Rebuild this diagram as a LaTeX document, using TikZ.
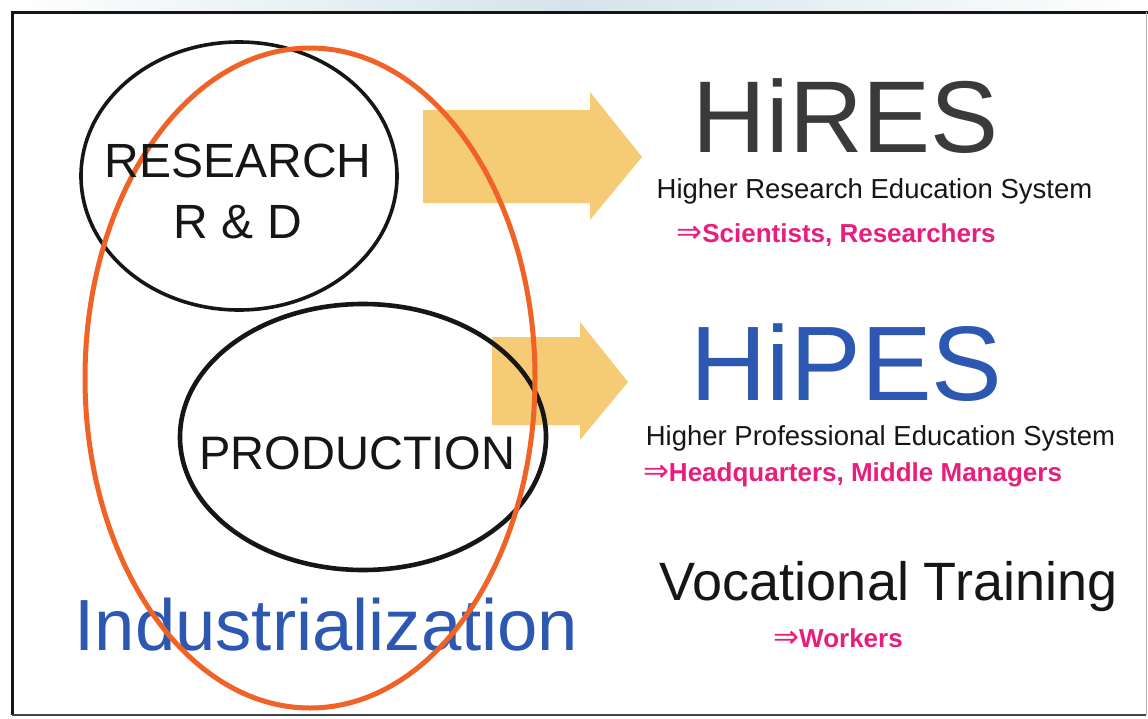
\documentclass[tikz,border=0pt]{standalone}
\usepackage{fontspec}
\setmainfont{Liberation Sans}
\newfontfamily\symf{DejaVu Sans}
\definecolor{orng}{RGB}{240,98,38}
\definecolor{arrowc}{RGB}{245,203,118}
\definecolor{mag}{RGB}{232,30,125}
\definecolor{blu}{RGB}{45,88,178}
\definecolor{dgray}{RGB}{58,58,58}
\definecolor{ink}{RGB}{22,22,22}
\definecolor{bgblue}{RGB}{212,228,234}
\newcommand{\fs}[1]{\fontsize{#1}{#1}\selectfont}
\newcommand{\dimp}{{\symf\mdseries\fontsize{31}{31}\selectfont ⇒}}
\tikzset{
  txt/.style={inner sep=0pt, anchor=base},
  bigarrow/.style={fill=arrowc, draw=none},
  blackring/.style={draw=ink, line width=3.6pt},
  orangering/.style={draw=orng, line width=5pt},
}
\begin{document}
\begin{tikzpicture}[x=1pt,y=-1pt]
\useasboundingbox (0,0) rectangle (1148,718);
% outer background and frame
\fill[white] (0,0) rectangle (1148,718);
\shade[left color=white, right color=white, middle color=bgblue] (0,0) rectangle (1148,12);
\draw[line width=3pt, ink] (1148,12) -- (12,12) -- (12,715);
\draw[line width=1.5pt, ink!80] (12,715) -- (1146,715);
\draw[line width=0.8pt, gray!60] (1146,12) -- (1146,715);
% arrows
\fill[bigarrow] (423,110) -- (590,110) -- (590,92) -- (642,157) -- (590,220) -- (590,203) -- (423,203) -- cycle;
\fill[bigarrow] (492,337) -- (580,337) -- (580,322) -- (628,382) -- (580,440) -- (580,425) -- (492,425) -- cycle;
% black ellipses
\draw[blackring] (239,176) ellipse [x radius=158pt, y radius=134pt];
\draw[blackring, line width=4.6pt] (363,437) ellipse [x radius=183pt, y radius=133pt];
% industrialization
\node[txt, text=blu] (ind) at (326.5,650) {\fs{72.5}Industrialization};
% orange ellipse
\draw[orangering] (310,378) ellipse [x radius=225pt, y radius=330pt];
% left texts
\node[txt, text=ink] (res) at (238,177) {\fs{48}RESEARCH};
\node[txt, text=ink] (rd) at (238,238) {\fs{48}R \& D};
\node[txt, text=ink] (prod) at (357.5,469) {\fs{47}PRODUCTION};
% right texts
\node[txt, text=dgray] (hires) at (846,152) {\fs{102}HiRES};
\node[txt, text=ink] (hiresl) at (874.5,198) {\fs{27.5}Higher Research Education System};
\node[txt, text=mag] (sci) at (836,242) {\fs{26}\bfseries\dimp Scientists, Researchers};
\node[txt, text=blu] (hipes) at (846.5,400) {\fs{106}HiPES};
\node[txt, text=ink] (hipesl) at (880.5,445) {\fs{27.5}Higher Professional Education System};
\node[txt, text=mag] (hq) at (852.5,481) {\fs{26}\bfseries\dimp Headquarters, Middle Managers};
\node[txt, text=ink] (voc) at (888.5,600) {\fs{54}Vocational Training};
\node[txt, text=mag] (wrk) at (838,647) {\fs{26}\bfseries\dimp Workers};
\end{tikzpicture}
\end{document}
